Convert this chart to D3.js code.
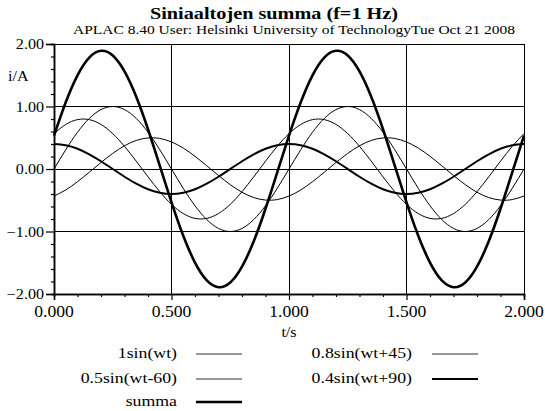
<!DOCTYPE html>
<html><head><meta charset="utf-8">
<script src="https://cdn.jsdelivr.net/npm/d3@7"></script>
<style>body{margin:0;background:#fff}svg{display:block}</style>
</head><body><svg id="c" width="545" height="411"></svg>
<script>
// ---- data ----
const tValues = [0,0.05,0.1,0.15,0.2,0.25,0.3,0.35,0.4,0.45,0.5,0.55,0.6,0.65,0.7,0.75,0.8,0.85,0.9,0.95,
  1,1.05,1.1,1.15,1.2,1.25,1.3,1.35,1.4,1.45,1.5,1.55,1.6,1.65,1.7,1.75,1.8,1.85,1.9,1.95,2];
const s1 = [0,0.309,0.588,0.809,0.951,1,0.951,0.809,0.588,0.309,0,-0.309,-0.588,-0.809,-0.951,-1,-0.951,-0.809,-0.588,-0.309,
  0,0.309,0.588,0.809,0.951,1,0.951,0.809,0.588,0.309,0,-0.309,-0.588,-0.809,-0.951,-1,-0.951,-0.809,-0.588,-0.309,0];
const s2 = [0.566,0.713,0.790,0.790,0.713,0.566,0.363,0.125,-0.125,-0.363,-0.566,-0.713,-0.790,-0.790,-0.713,-0.566,-0.363,-0.125,0.125,0.363,
  0.566,0.713,0.790,0.790,0.713,0.566,0.363,0.125,-0.125,-0.363,-0.566,-0.713,-0.790,-0.790,-0.713,-0.566,-0.363,-0.125,0.125,0.363,0.566];
const s3 = [-0.433,-0.335,-0.203,-0.052,0.104,0.250,0.372,0.457,0.497,0.489,0.433,0.335,0.203,0.052,-0.104,-0.250,-0.372,-0.457,-0.497,-0.489,
  -0.433,-0.335,-0.203,-0.052,0.104,0.250,0.372,0.457,0.497,0.489,0.433,0.335,0.203,0.052,-0.104,-0.250,-0.372,-0.457,-0.497,-0.489,-0.433];
const s4 = [0.400,0.380,0.324,0.235,0.124,0,-0.124,-0.235,-0.324,-0.380,-0.400,-0.380,-0.324,-0.235,-0.124,0,0.124,0.235,0.324,0.380,
  0.400,0.380,0.324,0.235,0.124,0,-0.124,-0.235,-0.324,-0.380,-0.400,-0.380,-0.324,-0.235,-0.124,0,0.124,0.235,0.324,0.380,0.400];
const summa = [0.533,1.067,1.498,1.782,1.891,1.816,1.562,1.156,0.636,0.054,-0.533,-1.067,-1.498,-1.782,-1.891,-1.816,-1.562,-1.156,-0.636,-0.054,
  0.533,1.067,1.498,1.782,1.891,1.816,1.562,1.156,0.636,0.054,-0.533,-1.067,-1.498,-1.782,-1.891,-1.816,-1.562,-1.156,-0.636,-0.054,0.533];
const seriesNames = ["1sin(wt)","0.8sin(wt+45)","0.5sin(wt-60)","0.4sin(wt+90)","summa"];
const seriesValues = [s1,s2,s3,s4,summa];
const xTicks = [0,0.5,1,1.5,2];
const yTicks = [-2,-1,0,1,2];
const xMinor = [0.1,0.2,0.3,0.4,0.6,0.7,0.8,0.9,1.1,1.2,1.3,1.4,1.6,1.7,1.8,1.9];
const yMinor = [-1.8,-1.6,-1.4,-1.2,-0.8,-0.6,-0.4,-0.2,0.2,0.4,0.6,0.8,1.2,1.4,1.6,1.8];
const titleText = "Siniaaltojen summa (f=1 Hz)";
const subtitleText = "APLAC 8.40 User: Helsinki University of TechnologyTue Oct 21 2008";

// ---- layout ----
const FONT = "Liberation Serif, Times New Roman, Tinos, Noto Serif, DejaVu Serif, FreeSerif, Times, serif";
const L = 54, R = 524, T = 44, B = 294;
const widths = [1,1,1,2,2.6];
const svg = d3.select("#c");
const x = d3.scaleLinear().domain([0,2]).range([L,R]);
const y = d3.scaleLinear().domain([-2,2]).range([B,T]);

function txt(px, py, str, size, anchor, sx, weight){
  const g = svg.append("g").attr("transform",`translate(${px},${py}) scale(${sx},1)`);
  return g.append("text").attr("text-anchor",anchor)
    .style("font-family",FONT).style("font-size",size+"px").attr("fill","#000")
    .attr("font-weight",weight||"normal").text(str);
}

// grid
svg.append("g").selectAll("line").data([-1,0,1]).join("line")
  .attr("x1",L).attr("x2",R).attr("y1",d=>y(d)).attr("y2",d=>y(d))
  .attr("stroke","#000").attr("stroke-width",1).attr("shape-rendering","crispEdges");
svg.append("g").selectAll("line").data([0.5,1,1.5]).join("line")
  .attr("y1",T).attr("y2",B).attr("x1",d=>x(d)).attr("x2",d=>x(d))
  .attr("stroke","#000").attr("stroke-width",1).attr("shape-rendering","crispEdges");
// frame
svg.append("rect").attr("x",L).attr("y",T).attr("width",R-L).attr("height",B-T)
  .attr("fill","none").attr("stroke","#000").attr("stroke-width",1).attr("shape-rendering","crispEdges");

// axes
const ax = svg.append("g").attr("transform",`translate(0,${B})`);
ax.call(d3.axisBottom(x).tickValues(xTicks).tickSize(6).tickFormat(""));
ax.append("g").call(d3.axisBottom(x).tickValues(xMinor).tickSize(3).tickFormat(""));
const ay = svg.append("g").attr("transform",`translate(${L},0)`);
ay.call(d3.axisLeft(y).tickValues(yTicks).tickSize(8).tickFormat(""));
ay.append("g").call(d3.axisLeft(y).tickValues(yMinor).tickSize(3).tickFormat(""));
svg.selectAll(".domain").attr("stroke","#000").attr("stroke-width",1.5);
svg.selectAll(".tick line").attr("stroke","#000").attr("stroke-width",1.2);

// tick labels
xTicks.forEach(v=>txt(x(v),317,d3.format(".3f")(v),16,"middle",1.1));
yTicks.forEach(v=>txt(44,y(v)+5,d3.format(".2f")(v),14,"end",1.15));
txt(8,81,"i/A",14,"start",1.15);
txt(289,337,"t/s",14,"middle",1.15);

// title
svg.append("text").attr("x",150).attr("y",19).style("font-size","16px").attr("font-weight","bold")
  .style("font-family",FONT).attr("fill","#000")
  .attr("textLength",248).attr("lengthAdjust","spacingAndGlyphs").text(titleText);
svg.append("text").attr("x",73).attr("y",34).style("font-size","12.5px")
  .style("font-family",FONT).attr("fill","#000")
  .attr("textLength",442).attr("lengthAdjust","spacingAndGlyphs").text(subtitleText);

// curves
const line = d3.line().x((d,i)=>x(tValues[i])).y(d=>y(d)).curve(d3.curveNatural);
seriesValues.forEach((vals,k)=>{
  svg.append("path").attr("d",line(vals)).attr("fill","none")
    .attr("stroke","#000").attr("stroke-width",widths[k]).attr("stroke-linejoin","round");
});

// legend
const legPos = [[177,196,354],[412,432,354],[177,196,379],[412,432,379],[177,196,402]];
seriesNames.forEach((n,k)=>{
  const [tx,lx,ly] = legPos[k];
  txt(tx,ly+4,n,14,"end",1.27);
  svg.append("line").attr("x1",lx).attr("x2",lx+46).attr("y1",ly).attr("y2",ly)
    .attr("stroke",k<3?"#333":"#000").attr("stroke-width",widths[k]);
});
</script></body></html>
